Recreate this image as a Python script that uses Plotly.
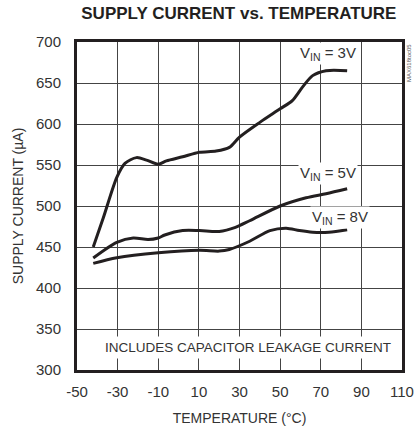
import plotly.graph_objects as go

# Data
temp_3v = [-42, -37, -30.4, -26.4, -20.7, -15.8, -10, -6, 2, 10.3, 18.5, 25, 30, 40, 50, 56, 61, 66, 72.6, 83]
curr_3v = [450, 486, 535, 552, 559, 556, 551, 555, 560, 565.5, 567, 571.5, 584, 602, 618.5, 628.6, 645, 659, 665, 665]

temp_5v = [-42, -30.4, -22.3, -15, -10, -6.8, 2, 10.3, 20, 28, 35, 50, 62.8, 72.6, 83]
curr_5v = [436.5, 455.6, 461, 459, 461, 464.6, 470, 470, 469, 474, 482, 500, 510, 515, 521]

temp_8v = [-42, -30.4, -10, 10.3, 20, 25, 35, 45, 53, 59.5, 66, 74, 83]
curr_8v = [430, 437, 443, 446, 445, 447, 457, 470, 473, 470, 468, 468, 471]

x_ticks = [-50, -30, -10, 10, 30, 50, 70, 90, 110]
y_ticks = [300, 350, 400, 450, 500, 550, 600, 650, 700]

FONT = "Liberation Sans, Arial, sans-serif"
INK = "#231f20"
TXT = "#333333"

fig = go.Figure()
for t, c in [(temp_3v, curr_3v), (temp_5v, curr_5v), (temp_8v, curr_8v)]:
    fig.add_trace(go.Scatter(x=t, y=c, mode="lines",
                             line=dict(color=INK, width=3, shape="spline", smoothing=0.8),
                             showlegend=False, hoverinfo="skip"))

axis_common = dict(showgrid=True, gridcolor="#444444", gridwidth=1,
                   showline=True, linecolor=INK, linewidth=3, mirror=True,
                   zeroline=False, ticks="", automargin=False,
                   tickfont=dict(family=FONT, size=15, color=TXT),
                   title_font=dict(family=FONT, size=14, color=TXT))

fig.update_xaxes(range=[-50, 110], tickvals=x_ticks, ticktext=[str(v) for v in x_ticks],
                 title_text="TEMPERATURE (°C)", title_standoff=15, ticklabelstandoff=6,
                 ticklabeloverflow="allow", **axis_common)
fig.update_yaxes(range=[300, 700], tickvals=y_ticks, ticktext=[str(v) for v in y_ticks],
                 title_text="SUPPLY CURRENT (µA)", title_standoff=10, ticklabelstandoff=10,
                 **axis_common)

labels = [("V<sub>IN</sub> = 3V", 88.3, 686), ("V<sub>IN</sub> = 5V", 88.3, 540), ("V<sub>IN</sub> = 8V", 94.3, 486)]
for txt, x, y in labels:
    fig.add_annotation(x=x, y=y, text=txt, showarrow=False, xanchor="right", yanchor="middle",
                       font=dict(family=FONT, size=15, color=TXT), bgcolor="white", borderpad=1)

fig.add_annotation(x=34, y=327, text="INCLUDES CAPACITOR LEAKAGE CURRENT", showarrow=False,
                   font=dict(family=FONT, size=13.5, color=TXT), bgcolor="white", borderpad=3)

fig.add_annotation(xref="paper", yref="paper", x=1.0215, y=1.0, xanchor="center", yanchor="top",
                   text="MAX618toc05", textangle=-90, showarrow=False,
                   font=dict(family=FONT, size=6, color="#555555"))

fig.update_layout(
    width=414, height=431,
    margin=dict(l=77, r=12, t=42, b=61),
    plot_bgcolor="white", paper_bgcolor="white",
    title=dict(text="<b>SUPPLY CURRENT vs. TEMPERATURE</b>", x=0.577, xanchor="center",
               y=0.97, yanchor="middle", automargin=False,
               font=dict(family=FONT, size=17, color=INK)),
)

fig.write_html("out.html", config={"displayModeBar": False},
               post_script="document.body.style.margin='0';document.body.style.overflow='hidden';")
